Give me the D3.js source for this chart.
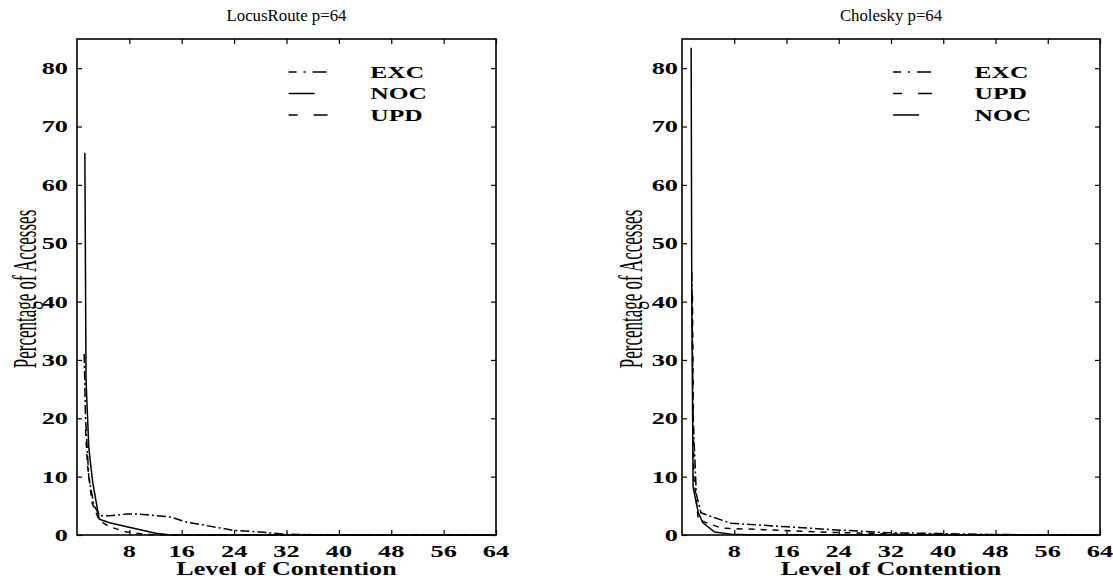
<!DOCTYPE html>
<html><head><meta charset="utf-8">
<script src="https://cdn.jsdelivr.net/npm/d3@7"></script>
<style>body{margin:0;background:#fff}</style>
</head><body>
<svg id="c" width="1113" height="580"></svg>
<script>
// ---- data ----
const titles = ["LocusRoute p=64", "Cholesky p=64"];
const xLabel = "Level of Contention";
const yLabel = "Percentage of Accesses";
const xTickValues = [8, 16, 24, 32, 40, 48, 56, 64];
const yTickValues = [0, 10, 20, 30, 40, 50, 60, 70, 80];

// LocusRoute p=64
const locusNOC_x = [1.2, 1.38, 1.8, 2.4, 3.4, 5, 7.6, 10, 12, 14, 20, 64];
const locusNOC_y = [65.5, 26.5, 15, 9, 2.7, 2.1, 1.4, 0.8, 0.3, 0.05, 0, 0];
const locusEXC_x = [1.1, 1.3, 1.8, 2.6, 3.5, 5, 7.6, 9.2, 14.2, 16.8, 21.9, 23.9, 28, 30, 32, 36, 64];
const locusEXC_y = [31, 20, 10, 5, 3.3, 3.3, 3.6, 3.6, 3.1, 2.2, 1.2, 0.8, 0.5, 0.3, 0.15, 0.05, 0];
const locusUPD_x = [1.3, 1.6, 2.3, 3.4, 5, 7.6, 10.5, 14, 64];
const locusUPD_y = [18, 12, 5.5, 2.5, 1.4, 0.5, 0.1, 0, 0];

// Cholesky p=64
const cholNOC_x = [1.4, 1.5, 1.7, 2.5, 3.2, 5, 7.5, 10, 64];
const cholNOC_y = [83.5, 40, 8.2, 3.8, 2.1, 0.5, 0.15, 0.05, 0];
const cholEXC_x = [1.5, 1.7, 2.2, 2.9, 7.5, 16.2, 23.9, 31.5, 46.9, 56, 64];
const cholEXC_y = [45, 20, 7, 3.8, 2.0, 1.4, 0.85, 0.4, 0.1, 0.02, 0];
const cholUPD_x = [1.6, 1.8, 2.5, 6, 13.6, 21.3, 31.5, 41.8, 50, 64];
const cholUPD_y = [41, 10, 2.6, 1.2, 0.85, 0.5, 0.2, 0.05, 0, 0];

const panels = [
  { title: titles[0],
    legendOrder: ["EXC", "NOC", "UPD"],
    series: { EXC: [locusEXC_x, locusEXC_y], NOC: [locusNOC_x, locusNOC_y], UPD: [locusUPD_x, locusUPD_y] } },
  { title: titles[1],
    legendOrder: ["EXC", "UPD", "NOC"],
    series: { EXC: [cholEXC_x, cholEXC_y], UPD: [cholUPD_x, cholUPD_y], NOC: [cholNOC_x, cholNOC_y] } }
];

// ---- styles / layout ----
const dash = { EXC: "9,3,2,3", UPD: "6,6", NOC: null };
const legendDash = { EXC: "8,7,2,7,14", UPD: "9,16,14", NOC: null };
const legendLen = { EXC: 39, UPD: 39, NOC: 26 };
const layout = [
  { x0: 77, x1: 496, ylabX: 24, gap: 9 },
  { x0: 682, x1: 1100, ylabX: 630, gap: 4 }
];
const yTop = 39, yBot = 535;
const SX = 1.55; // horizontal stretch of tick text
const serif = "'Liberation Serif', 'Times New Roman', serif";

const svg = d3.select("#c");

panels.forEach((p, i) => {
  const L = layout[i];
  const x = d3.scaleLinear().domain([0, 64]).range([L.x0, L.x1]);
  const y = d3.scaleLinear().domain([0, 85]).range([yBot, yTop]);
  const g = svg.append("g");

  // frame
  g.append("rect").attr("x", L.x0).attr("y", yTop)
    .attr("width", L.x1 - L.x0).attr("height", yBot - yTop)
    .attr("fill", "none").attr("stroke", "#000").attr("stroke-width", 1.6);

  // axes (inward ticks)
  const axB = d3.axisBottom(x).tickValues(xTickValues).tickSizeInner(-5).tickSizeOuter(0).tickFormat("");
  const axT = d3.axisTop(x).tickValues(xTickValues).tickSizeInner(-5).tickSizeOuter(0).tickFormat("");
  const axL = d3.axisLeft(y).tickValues(yTickValues).tickSizeInner(-5).tickSizeOuter(0).tickFormat("");
  const axR = d3.axisRight(y).tickValues(yTickValues).tickSizeInner(-5).tickSizeOuter(0).tickFormat("");
  [[axB, `translate(0,${yBot})`], [axT, `translate(0,${yTop})`], [axL, `translate(${L.x0},0)`], [axR, `translate(${L.x1},0)`]]
    .forEach(([ax, tr]) => {
      const a = g.append("g").attr("transform", tr).call(ax);
      a.select(".domain").remove();
      a.selectAll("line").attr("stroke", "#000").attr("stroke-width", 1.2);
    });

  // tick labels
  xTickValues.forEach(v => {
    g.append("text").attr("transform", `translate(${x(v)},557) scale(${SX},1)`)
      .attr("text-anchor", "middle").attr("font-family", serif).attr("font-weight", "bold")
      .attr("font-size", 17).text(v);
  });
  yTickValues.forEach(v => {
    g.append("text").attr("transform", `translate(${L.x0 - L.gap},${y(v)}) scale(${SX},1)`)
      .attr("text-anchor", "end").attr("dy", "0.35em").attr("font-family", serif).attr("font-weight", "bold")
      .attr("font-size", 17).text(v);
  });

  // axis labels and title
  g.append("text").attr("transform", `translate(${(L.x0 + L.x1) / 2},575) scale(1.45,1)`)
    .attr("text-anchor", "middle").attr("font-family", serif).attr("font-weight", "bold")
    .attr("font-size", 18).text(xLabel);
  g.append("text").attr("transform", `translate(${(L.x0 + L.x1) / 2},21) scale(1.05,1)`)
    .attr("text-anchor", "middle").attr("font-family", serif)
    .attr("font-size", 16).text(p.title);
  g.append("text").attr("transform", `translate(${L.ylabX},289) scale(2.0,1) rotate(-90)`)
    .attr("text-anchor", "middle").attr("dy", "0.35em").attr("font-family", serif)
    .attr("font-size", 17).text(yLabel);

  // lines
  const line = d3.line().x(d => x(d[0])).y(d => y(d[1]));
  Object.entries(p.series).forEach(([name, [xs, ys]]) => {
    const pts = xs.map((v, k) => [v, ys[k]]);
    g.append("path").datum(pts).attr("d", line)
      .attr("fill", "none").attr("stroke", "#000").attr("stroke-width", 1.5)
      .attr("stroke-dasharray", dash[name]);
  });

  // legend
  const lx0 = L.x0 + (L.x1 - L.x0) * 0.505, tx = L.x0 + (L.x1 - L.x0) * 0.70;
  p.legendOrder.forEach((name, k) => {
    const ly = 72 + k * 21.5;
    g.append("line").attr("x1", lx0).attr("x2", lx0 + legendLen[name]).attr("y1", ly).attr("y2", ly)
      .attr("stroke", "#000").attr("stroke-width", 1.5).attr("stroke-dasharray", legendDash[name]);
    g.append("text").attr("transform", `translate(${tx},${ly}) scale(1.5,1)`)
      .attr("dy", "0.35em").attr("font-family", serif).attr("font-weight", "bold")
      .attr("font-size", 17).text(name);
  });
});
</script>
</body></html>
